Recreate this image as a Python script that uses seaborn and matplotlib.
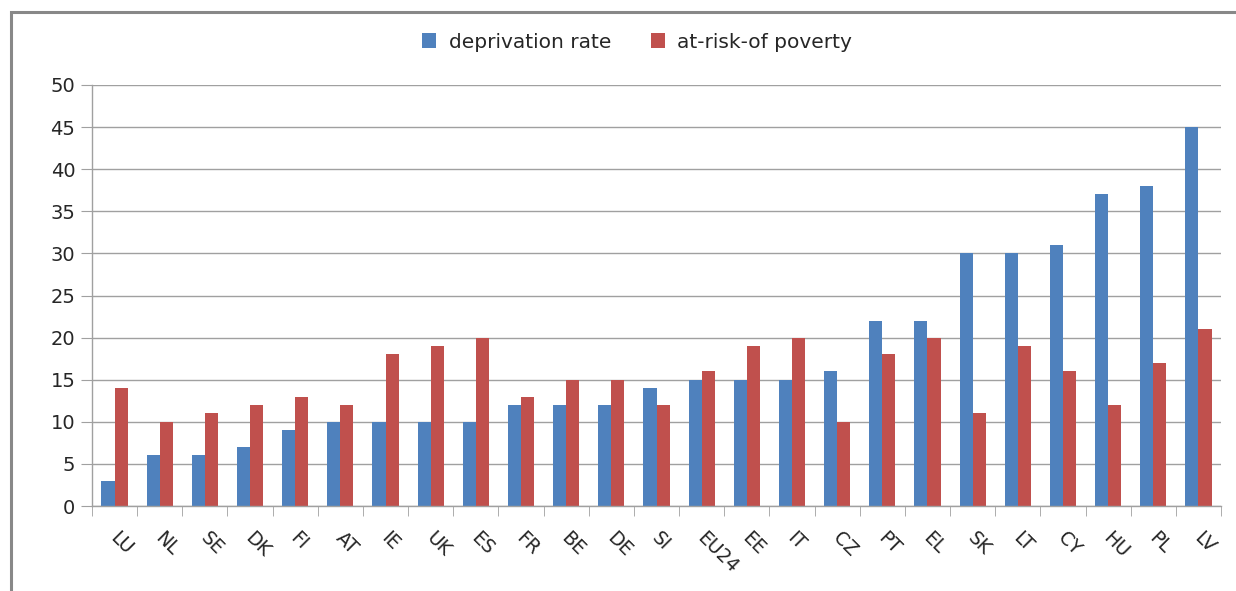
import pandas as pd
import matplotlib
matplotlib.use("Agg")
import matplotlib.pyplot as plt
import seaborn as sns
from matplotlib.patches import Rectangle
from matplotlib.transforms import ScaledTranslation

# data
countries = ["LU", "NL", "SE", "DK", "FI", "AT", "IE", "UK", "ES", "FR", "BE", "DE", "SI",
             "EU24", "EE", "IT", "CZ", "PT", "EL", "SK", "LT", "CY", "HU", "PL", "LV"]
deprivation = [3, 6, 6, 7, 9, 10, 10, 10, 10, 12, 12, 12, 14,
               15, 15, 15, 16, 22, 22, 30, 30, 31, 37, 38, 45]
poverty = [14, 10, 11, 12, 13, 12, 18, 19, 20, 13, 15, 15, 12,
           16, 19, 20, 10, 18, 20, 11, 19, 16, 12, 17, 21]
series = ["deprivation rate", "at-risk-of poverty"]

df = pd.DataFrame({"country": countries * 2,
                   "value": deprivation + poverty,
                   "series": [series[0]] * len(countries) + [series[1]] * len(countries)})

sns.set_style("white")
plt.rcParams["font.family"] = ["DejaVu Sans"]

fig = plt.figure(figsize=(12.36, 5.91), dpi=100)
ax = fig.add_axes([92 / 1236, 1 - 506 / 591, (1221 - 92) / 1236, (506 - 85) / 591])

sns.barplot(data=df, x="country", y="value", hue="series", order=countries,
            palette=["#4F81BD", "#C0504D"], width=0.58, saturation=1,
            edgecolor="none", ax=ax)

ax.set_ylim(0, 50)
ax.set_xlim(-0.5, len(countries) - 0.5)
ax.set_yticks(range(0, 51, 5))
ax.yaxis.grid(True, color="#A0A0A0", linewidth=1)
ax.set_axisbelow(True)
ax.set_xlabel("")
ax.set_ylabel("")

for side in ["top", "right"]:
    ax.spines[side].set_visible(False)
for side in ["left", "bottom"]:
    ax.spines[side].set_color("#A0A0A0")
    ax.spines[side].set_linewidth(1)

# tick marks between categories like the original
ax.set_xticks([i - 0.5 for i in range(len(countries) + 1)], minor=True)
ax.tick_params(axis="x", which="minor", length=7, color="#A0A0A0", direction="out", bottom=True)
ax.tick_params(axis="x", which="major", length=0, pad=16, labelsize=13.5)
ax.tick_params(axis="y", length=8, color="#A0A0A0", direction="out", left=True, labelsize=14, pad=4)
ax.set_xticks(range(len(countries)))
ax.set_xticklabels(countries, rotation=-45, ha="left", rotation_mode="anchor")
shift = ScaledTranslation(5 / 100, 0, fig.dpi_scale_trans)
for lbl in ax.get_xticklabels():
    lbl.set_transform(lbl.get_transform() + shift)

ax.legend(loc="center", bbox_to_anchor=(0.483, 1 + 43 / 421),
          ncol=2, frameon=False, fontsize=14.5, handlelength=0.7, handleheight=0.7,
          columnspacing=2.0, handletextpad=0.6)

# outer frame (only left and top visible in the original crop)
fig.patches.append(Rectangle((11 / 1236, -0.05), 1.1, 1 - 12 / 591 + 0.05, transform=fig.transFigure,
                             fill=False, edgecolor="#888888", linewidth=2.2))

fig.savefig("out.png", dpi=100)
